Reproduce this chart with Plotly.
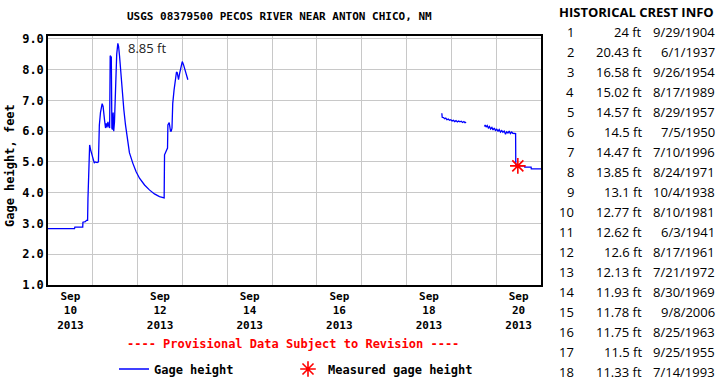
import datetime as dt
import plotly.graph_objects as go

# ---------------- data ----------------
title_text = "USGS 08379500 PECOS RIVER NEAR ANTON CHICO, NM"
start = dt.datetime(2013, 9, 10)

# hours since 2013-09-10 00:00 and gage height (ft)
seg1_hours = [0, 14.2, 14.4, 18.6, 18.7, 20.0, 20.6, 21.2, 21.4, 21.9, 22.3, 22.8, 23.4, 24.2, 24.8,
              25.3, 26.3, 27.0, 27.5, 28.1, 28.6, 29.0, 29.5, 29.8, 30.3, 30.8, 31.2, 31.6, 32.1,
              32.6, 33.0, 33.3, 33.9, 34.2, 34.5, 34.9, 35.2, 35.6, 36.2, 36.8, 37.4, 37.8, 38.3,
              38.8, 39.2, 40.0, 40.6, 41.5, 42.5, 43.6, 45.4, 47.2, 49.0, 51.7, 54.3, 57.0, 59.7,
              61.0, 62.2, 62.4, 62.8, 63.5, 64.0, 64.2, 64.9, 65.6, 66.0, 66.4, 66.8, 67.5, 68.3,
              68.8, 69.2, 69.9, 70.4, 71.0, 71.3, 71.9, 72.6, 73.3, 73.9, 74.4, 74.9]
seg1_values = [2.83, 2.83, 2.88, 2.88, 3.04, 3.06, 3.10, 3.10, 3.80, 5.07, 5.55, 5.40, 5.28, 5.07, 4.96,
               5.00, 4.98, 5.00, 6.20, 6.60, 6.85, 6.89, 6.80, 6.50, 6.35, 6.10, 6.25, 6.12, 6.30,
               6.15, 6.10, 8.45, 8.40, 6.10, 6.05, 6.60, 6.00, 6.30, 7.60, 8.50, 8.85, 8.75, 8.45,
               8.05, 7.60, 6.95, 6.70, 6.20, 5.70, 5.30, 4.96, 4.68, 4.47, 4.25, 4.09, 3.96, 3.87,
               3.84, 3.83, 5.23, 5.30, 5.40, 5.45, 6.20, 6.28, 6.00, 6.00, 6.10, 6.90, 7.33, 7.77,
               7.92, 7.90, 7.67, 7.85, 7.98, 8.10, 8.26, 8.15, 7.98, 7.85, 7.75, 7.67]

seg2_hours = [210.9, 211.1, 211.8, 212.4, 213.0, 213.6, 214.3, 215.0, 215.7, 216.4, 217.1, 217.8,
              218.5, 219.2, 219.9, 220.6, 221.3, 222.0, 222.7, 223.3, 223.9]
seg2_values = [6.58, 6.45, 6.44, 6.40, 6.42, 6.37, 6.39, 6.35, 6.37, 6.33, 6.35, 6.31,
               6.34, 6.30, 6.33, 6.30, 6.32, 6.28, 6.31, 6.27, 6.29]

seg3_hours = [233.7, 234.1, 234.6, 235.2, 235.8, 236.4, 237.0, 237.7, 238.3, 239.0, 239.6, 240.3,
              241.0, 241.6, 242.3, 243.0, 243.6, 244.3, 245.0, 245.6, 246.3, 247.0, 247.6, 248.3,
              248.9, 250.4, 250.5, 255.2, 255.3, 258.7, 258.8, 264.0]
seg3_values = [6.15, 6.20, 6.13, 6.18, 6.10, 6.15, 6.07, 6.12, 6.04, 6.10, 6.02, 6.06,
               6.00, 6.05, 5.97, 6.02, 5.96, 6.00, 5.90, 5.98, 5.94, 6.00, 5.92, 5.97,
               5.93, 5.92, 4.87, 4.87, 4.83, 4.83, 4.77, 4.77]

measured_hours = [251.6]
measured_values = [4.87]

peak_hour = 37.4
peak_value = 8.85

tick_days = [10, 12, 14, 16, 18, 20]
tick_labels = ["Sep<br>10<br>2013", "Sep<br>12<br>2013", "Sep<br>14<br>2013",
               "Sep<br>16<br>2013", "Sep<br>18<br>2013", "Sep<br>20<br>2013"]

crest_rank = list(range(1, 19))
crest_ft = ["24", "20.43", "16.58", "15.02", "14.57", "14.5", "14.47", "13.85", "13.1",
            "12.77", "12.62", "12.6", "12.13", "11.93", "11.78", "11.75", "11.5", "11.33"]
crest_date = ["9/29/1904", "6/1/1937", "9/26/1954", "8/17/1989", "8/29/1957", "7/5/1950",
              "7/10/1996", "8/24/1971", "10/4/1938", "8/10/1981", "6/3/1941", "8/17/1961",
              "7/21/1972", "8/30/1969", "9/8/2006", "8/25/1963", "9/25/1955", "7/14/1993"]

# ---------------- build ----------------
def t(h):
    return (start + dt.timedelta(hours=h)).strftime("%Y-%m-%d %H:%M:%S")

xs, ys = [], []
for hs, vs in [(seg1_hours, seg1_values), (seg2_hours, seg2_values), (seg3_hours, seg3_values)]:
    xs += [t(h) for h in hs] + [None]
    ys += list(vs) + [None]

MONO = "DejaVu Sans Mono"
LEGF = dict(family=MONO, size=12, color="black", weight="bold")
fig = go.Figure()
fig.add_trace(go.Scatter(x=xs, y=ys, mode="lines", name="Gage height", legend="legend",
                         line=dict(color="#0000ff", width=1.3), connectgaps=False))
fig.add_trace(go.Scatter(x=[t(h) for h in measured_hours], y=measured_values, mode="markers",
                         name="Measured gage height", legend="legend2",
                         marker=dict(symbol="asterisk-open", size=13, color="#ff0000",
                                     line=dict(color="#ff0000", width=1.6))))

L, R, T, B = 48, 541, 36, 285
W, H = R - L, B - T
def px(x):
    return (x - L) / W
def py(y):
    return (B - y) / H

ann = []
ann.append(dict(x=t(peak_hour), y=peak_value, xref="x", yref="y", text=f"{peak_value} ft",
                showarrow=False, xanchor="left", yanchor="middle", xshift=8, yshift=-5,
                font=dict(family="Open Sans", size=13, color="#222")))
ann.append(dict(x=px(279), y=py(17), xref="paper", yref="paper", text=title_text, showarrow=False,
                xanchor="center", yanchor="middle",
                font=dict(family=MONO, size=11, color="black", weight="bold")))
ann.append(dict(x=px(10), y=py(166), xref="paper", yref="paper", text="Gage height, feet",
                showarrow=False, textangle=-90, xanchor="center", yanchor="middle",
                font=dict(family=MONO, size=12, color="black", weight="bold")))
ann.append(dict(x=px(293), y=py(344), xref="paper", yref="paper",
                text="---- Provisional Data Subject to Revision ----", showarrow=False,
                xanchor="center", yanchor="middle",
                font=dict(family=MONO, size=12, color="#ff0000", weight="bold")))
ann.append(dict(x=px(716), y=py(12), xref="paper", yref="paper", text="HISTORICAL CREST INFO",
                showarrow=False, xanchor="right", yanchor="middle",
                font=dict(family="Open Sans", size=13, color="black", weight="bold")))
TF = dict(family="Open Sans", size=13, color="black")
for i, (r, v, d) in enumerate(zip(crest_rank, crest_ft, crest_date)):
    yy = py(32.3 + i * 20)
    ann.append(dict(x=px(576), y=yy, xref="paper", yref="paper", text=str(r), showarrow=False,
                    xanchor="right", yanchor="middle", font=TF))
    ann.append(dict(x=px(644), y=yy, xref="paper", yref="paper", text=f"{v} ft", showarrow=False,
                    xanchor="right", yanchor="middle", font=TF))
    ann.append(dict(x=px(717), y=yy, xref="paper", yref="paper", text=d, showarrow=False,
                    xanchor="right", yanchor="middle", font=TF))

fig.update_layout(
    width=720, height=380,
    margin=dict(l=L, r=720 - R, t=T, b=380 - B, pad=0, autoexpand=False),
    paper_bgcolor="white", plot_bgcolor="white",
    showlegend=True,
    legend=dict(orientation="h", xref="container", yref="container",
                x=114 / 720, y=1 - 369 / 380, xanchor="left", yanchor="middle",
                font=LEGF, bgcolor="rgba(0,0,0,0)", itemwidth=30),
    legend2=dict(orientation="h", xref="container", yref="container",
                 x=288 / 720, y=1 - 369 / 380, xanchor="left", yanchor="middle",
                 font=LEGF, bgcolor="rgba(0,0,0,0)", itemwidth=30),
    annotations=ann,
    xaxis=dict(type="date",
               range=[t(0), t(264)],
               tickmode="array",
               tickvals=[t((d - 10) * 24 + 12) for d in tick_days],
               ticktext=tick_labels,
               showgrid=False, ticks="", zeroline=False,
               tickfont=dict(family=MONO, size=11, color="black", weight="bold"),
               minor=dict(dtick=86400000, tick0=t(0), showgrid=True, gridcolor="#c8c8c8",
                          gridwidth=1, ticks=""),
               showline=True, linecolor="black", linewidth=1.5, mirror=True),
    yaxis=dict(range=[1.0, 9.09], tickmode="array",
               tickvals=[1, 2, 3, 4, 5, 6, 7, 8, 9],
               ticktext=["1.0", "2.0", "3.0", "4.0", "5.0", "6.0", "7.0", "8.0", "9.0"],
               showgrid=True, gridcolor="#c8c8c8", gridwidth=1, ticks="", zeroline=False,
               tickfont=dict(family=MONO, size=12, color="black", weight="bold"),
               showline=True, linecolor="black", linewidth=1.5, mirror=True),
)

fig.write_html("out.html", config={"displayModeBar": False},
               post_script="document.body.style.margin='0';")
